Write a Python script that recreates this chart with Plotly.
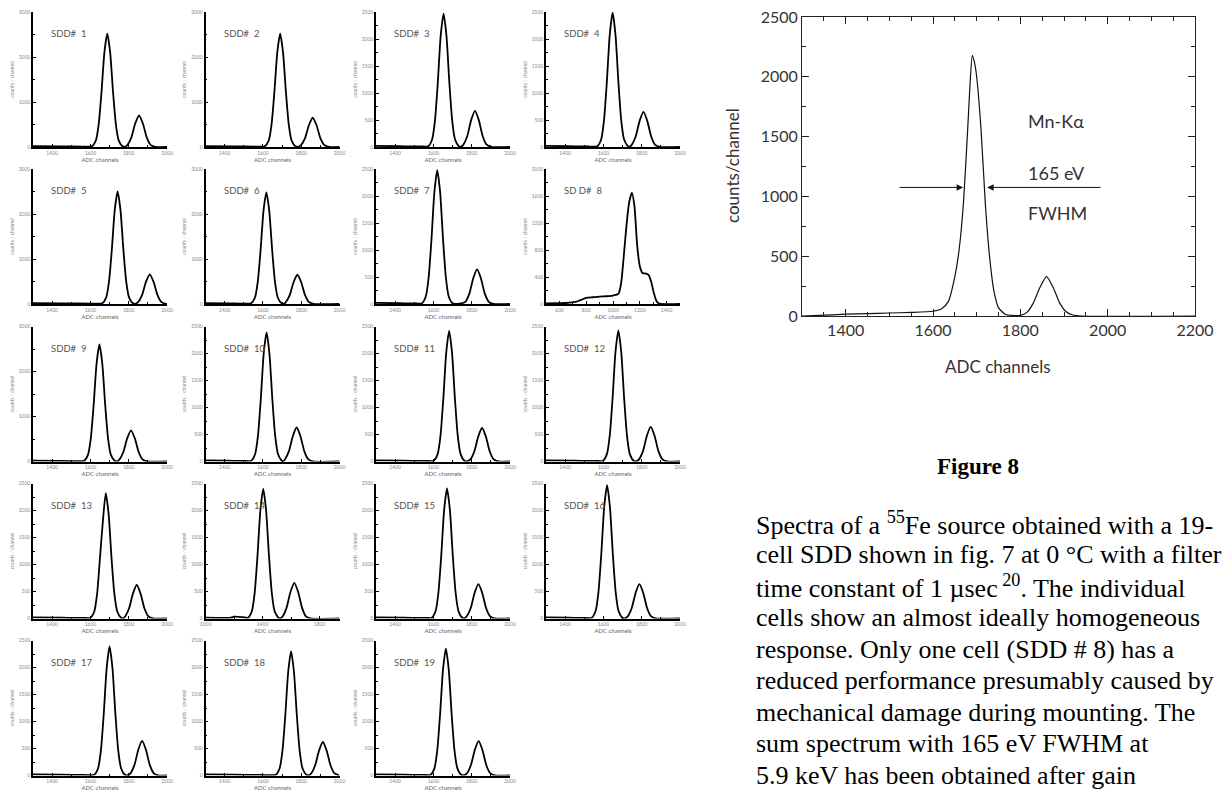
import plotly.graph_objects as go

W, H = 1232, 792

# ---------------- data ----------------
sdd_names = ["SDD#  1", "SDD#  2", "SDD#  3", "SDD#  4", "SDD#  5", "SDD#  6", "SDD#  7",
             "SD D#  8", "SDD#  9", "SDD#  10", "SDD#  11", "SDD#  12", "SDD#  13",
             "SDD#  14", "SDD#  15", "SDD#  16", "SDD#  17", "SDD#  18", "SDD#  19"]

sdd1_x = [1300, 1450, 1560, 1608, 1628, 1643, 1658, 1673, 1688, 1703, 1718, 1733, 1748, 1768, 1781, 1794, 1814, 1834, 1854, 1874, 1894, 1914, 1939, 2000]
sdd1_y = [20, 15, 10, 15, 141, 499, 1227, 2104, 2520, 2104, 1227, 499, 141, 15, 5, 49, 214, 521, 700, 521, 214, 49, 2, 0]
sdd2_x = [1300, 1450, 1560, 1610, 1630, 1645, 1660, 1675, 1690, 1705, 1720, 1735, 1750, 1770, 1785, 1800, 1820, 1840, 1860, 1880, 1900, 1920, 1945, 2000]
sdd2_y = [20, 15, 10, 15, 141, 499, 1227, 2104, 2520, 2104, 1227, 499, 141, 15, 5, 46, 199, 484, 650, 484, 199, 46, 2, 0]
sdd3_x = [1300, 1420, 1530, 1573, 1593, 1608, 1623, 1638, 1653, 1668, 1683, 1698, 1713, 1733, 1745, 1757, 1777, 1797, 1817, 1837, 1857, 1877, 1902, 2000]
sdd3_y = [20, 15, 10, 15, 138, 489, 1203, 2062, 2470, 2062, 1203, 489, 138, 15, 5, 47, 205, 498, 670, 498, 205, 47, 2, 0]
sdd4_x = [1300, 1420, 1520, 1568, 1588, 1603, 1618, 1633, 1648, 1663, 1678, 1693, 1708, 1728, 1738, 1749, 1769, 1789, 1809, 1829, 1849, 1869, 1894, 2000]
sdd4_y = [20, 15, 10, 15, 139, 493, 1213, 2079, 2490, 2079, 1213, 493, 139, 15, 5, 46, 199, 484, 650, 484, 199, 46, 2, 0]
sdd5_x = [1300, 1450, 1600, 1662, 1682, 1697, 1712, 1727, 1742, 1757, 1772, 1787, 1802, 1822, 1835, 1850, 1870, 1890, 1910, 1930, 1950, 1970, 1995, 2000]
sdd5_y = [20, 15, 10, 15, 140, 495, 1218, 2088, 2500, 2088, 1218, 495, 140, 15, 5, 46, 202, 491, 660, 491, 202, 46, 2, 0]
sdd6_x = [1300, 1420, 1500, 1538, 1558, 1573, 1588, 1603, 1618, 1633, 1648, 1663, 1678, 1698, 1710, 1720, 1740, 1760, 1780, 1800, 1820, 1840, 1865, 2000]
sdd6_y = [20, 15, 10, 15, 139, 491, 1208, 2071, 2480, 2071, 1208, 491, 139, 15, 5, 46, 199, 484, 650, 484, 199, 46, 2, 0]
sdd7_x = [1300, 1420, 1500, 1540, 1560, 1575, 1590, 1605, 1620, 1635, 1650, 1665, 1680, 1700, 1734, 1768, 1788, 1808, 1828, 1848, 1868, 1888, 1913, 2000]
sdd7_y = [20, 15, 10, 15, 139, 491, 1208, 2071, 2480, 2071, 1208, 491, 139, 15, 5, 45, 196, 476, 640, 476, 196, 45, 2, 0]
sdd8_x = [500, 650, 720, 760, 800, 850, 900, 950, 1000, 1040, 1060, 1080, 1100, 1120, 1141, 1160, 1180, 1200, 1220, 1245, 1265, 1285, 1305, 1325, 1345, 1500]
sdd8_y = [10, 15, 30, 60, 90, 100, 110, 115, 125, 150, 300, 700, 1150, 1500, 1650, 1450, 880, 560, 460, 450, 430, 330, 160, 40, 5, 0]
sdd9_x = [1300, 1420, 1520, 1567, 1587, 1602, 1617, 1632, 1647, 1662, 1677, 1692, 1707, 1727, 1740, 1752, 1772, 1792, 1812, 1832, 1852, 1872, 1897, 2000]
sdd9_y = [20, 15, 10, 16, 146, 515, 1266, 2171, 2600, 2171, 1266, 515, 146, 16, 5, 48, 211, 513, 690, 513, 211, 48, 2, 0]
sdd10_x = [1300, 1420, 1500, 1539, 1559, 1574, 1589, 1604, 1619, 1634, 1649, 1664, 1679, 1699, 1708, 1716, 1736, 1756, 1776, 1796, 1816, 1836, 1861, 2000]
sdd10_y = [20, 15, 10, 14, 134, 473, 1164, 1996, 2390, 1996, 1164, 473, 134, 14, 5, 44, 193, 469, 630, 469, 193, 44, 2, 0]
sdd11_x = [1300, 1450, 1560, 1602, 1622, 1637, 1652, 1667, 1682, 1697, 1712, 1727, 1742, 1762, 1778, 1794, 1814, 1834, 1854, 1874, 1894, 1914, 1939, 2000]
sdd11_y = [20, 15, 10, 15, 136, 479, 1179, 2021, 2420, 2021, 1179, 479, 136, 15, 5, 43, 190, 461, 620, 461, 190, 43, 2, 0]
sdd12_x = [1300, 1450, 1560, 1598, 1618, 1633, 1648, 1663, 1678, 1693, 1708, 1723, 1738, 1758, 1772, 1787, 1807, 1827, 1847, 1867, 1887, 1907, 1932, 2000]
sdd12_y = [20, 15, 10, 15, 136, 481, 1183, 2029, 2430, 2029, 1183, 481, 136, 15, 5, 45, 196, 476, 640, 476, 196, 45, 2, 0]
sdd13_x = [1300, 1450, 1560, 1600, 1620, 1635, 1650, 1665, 1680, 1695, 1710, 1725, 1740, 1760, 1771, 1782, 1802, 1822, 1842, 1862, 1882, 1902, 1927, 2000]
sdd13_y = [20, 15, 10, 14, 130, 459, 1130, 1800, 2320, 1937, 1130, 459, 130, 14, 5, 43, 190, 461, 620, 461, 190, 43, 2, 0]
sdd14_x = [1000, 1180, 1200, 1260, 1298, 1325, 1345, 1365, 1385, 1405, 1425, 1445, 1465, 1485, 1512, 1527, 1543, 1569, 1596, 1623, 1650, 1677, 1703, 1737, 1940]
sdd14_y = [15, 15, 35, 25, 14, 134, 475, 1169, 2004, 2400, 2004, 1169, 475, 134, 14, 5, 46, 202, 491, 660, 491, 202, 46, 2, 0]
sdd15_x = [1300, 1450, 1560, 1591, 1611, 1626, 1641, 1656, 1671, 1686, 1701, 1716, 1731, 1751, 1763, 1775, 1795, 1815, 1835, 1855, 1875, 1895, 1920, 2000]
sdd15_y = [20, 15, 10, 14, 135, 477, 1174, 2012, 2410, 2012, 1174, 477, 135, 14, 5, 45, 195, 473, 636, 473, 195, 45, 2, 0]
sdd16_x = [1300, 1420, 1500, 1539, 1559, 1574, 1589, 1604, 1619, 1634, 1649, 1664, 1679, 1699, 1714, 1728, 1748, 1768, 1788, 1808, 1828, 1848, 1873, 2000]
sdd16_y = [20, 15, 10, 15, 138, 489, 1203, 2062, 2470, 2062, 1203, 489, 138, 15, 5, 45, 195, 473, 636, 473, 195, 45, 2, 0]
sdd17_x = [1300, 1450, 1570, 1620, 1640, 1655, 1670, 1685, 1700, 1715, 1730, 1745, 1760, 1780, 1795, 1810, 1830, 1850, 1870, 1890, 1910, 1930, 1955, 2000]
sdd17_y = [20, 15, 10, 14, 134, 473, 1164, 1996, 2390, 1996, 1164, 473, 134, 14, 5, 45, 196, 476, 640, 476, 196, 45, 2, 0]
sdd18_x = [1300, 1450, 1600, 1667, 1687, 1702, 1717, 1732, 1747, 1762, 1777, 1792, 1807, 1827, 1840, 1853, 1873, 1893, 1913, 1933, 1953, 1973, 1998]
sdd18_y = [20, 15, 10, 14, 129, 455, 1120, 1921, 2300, 1921, 1120, 455, 129, 14, 5, 43, 190, 461, 620, 461, 190, 43, 2]
sdd19_x = [1300, 1450, 1550, 1585, 1605, 1620, 1635, 1650, 1665, 1680, 1695, 1710, 1725, 1745, 1760, 1776, 1796, 1816, 1836, 1856, 1876, 1896, 1921, 2000]
sdd19_y = [20, 15, 10, 14, 132, 465, 1144, 1962, 2350, 1962, 1144, 465, 132, 14, 5, 45, 195, 473, 636, 473, 195, 45, 2, 0]

sum_x = [1300, 1340, 1400, 1450, 1500, 1550, 1600, 1620, 1635, 1650, 1660, 1670, 1680, 1685, 1690, 1695, 1700, 1710, 1720, 1730, 1740, 1750, 1765, 1780, 1800, 1815, 1830, 1845, 1860, 1875, 1890, 1905, 1920, 1940, 2200]
sum_y = [0, 5, 15, 20, 25, 30, 40, 60, 120, 330, 560, 960, 1600, 1950, 2180, 2120, 2000, 1560, 930, 480, 200, 70, 15, 5, 5, 30, 110, 240, 330, 240, 110, 35, 8, 0, 0]

# axis ranges / ticks per small panel
x_ranges = [[1300, 2000]] * 7 + [[500, 1500]] + [[1300, 2000]] * 5 + [[1000, 1940]] + [[1300, 2000]] * 5
x_tick0 = [1400] * 7 + [600] + [1400] * 5 + [1000] + [1400] * 5
x_dtick = [200] * 7 + [200] + [200] * 5 + [400] + [200] * 5
y_max = [3000, 3000, 2500, 2500, 3000, 3000, 2500, 2000, 3000, 2500,
         2500, 2500, 2500, 2500, 2500, 2500, 2500, 2500, 2500]

caption_lines = [
    "Spectra of a <sup>55</sup>Fe source obtained with a 19-",
    "cell SDD shown in fig. 7 at 0 °C with a filter",
    "time constant of 1 µsec<sup> 20</sup>. The individual",
    "cells show an almost ideally homogeneous",
    "response. Only one cell (SDD # 8) has a",
    "reduced performance presumably caused by",
    "mechanical damage during mounting. The",
    "sum spectrum with 165 eV FWHM at",
    "5.9 keV has been obtained after gain",
]

panels_x = [sdd1_x, sdd2_x, sdd3_x, sdd4_x, sdd5_x, sdd6_x, sdd7_x, sdd8_x, sdd9_x, sdd10_x,
            sdd11_x, sdd12_x, sdd13_x, sdd14_x, sdd15_x, sdd16_x, sdd17_x, sdd18_x, sdd19_x]
panels_y = [sdd1_y, sdd2_y, sdd3_y, sdd4_y, sdd5_y, sdd6_y, sdd7_y, sdd8_y, sdd9_y, sdd10_y,
            sdd11_y, sdd12_y, sdd13_y, sdd14_y, sdd15_y, sdd16_y, sdd17_y, sdd18_y, sdd19_y]

# ---------------- layout geometry (page pixels) ----------------
OFF = 8  # the page body margin offsets the figure by 8 px


def px(x):
    return (x - OFF) / W


def py(y):
    return 1 - (y - OFF) / H


col_left = [33, 205.5, 376, 546]
row_top = [12, 169, 326.5, 483.5, 640.5]
pw, ph = 134, 135

FONT = "Lato, 'Noto Sans', sans-serif"
SMALL_GRAY = "#8a8a8a"

fig = go.Figure()
layout = dict(width=W, height=H, margin=dict(l=0, r=0, t=0, b=0, autoexpand=False),
              paper_bgcolor="white", plot_bgcolor="white", showlegend=False,
              font=dict(family=FONT, color="#333"))
annotations = []

for i in range(19):
    n = i + 1
    sid = "" if n == 1 else str(n)
    r, c = divmod(i, 4)
    x0, y0 = col_left[c], row_top[r]
    fig.add_trace(go.Scatter(
        x=panels_x[i], y=panels_y[i], mode="lines",
        line=dict(color="black", width=1.8, shape="spline", smoothing=0.6),
        xaxis="x" + sid, yaxis="y" + sid, hoverinfo="skip"))
    ym = y_max[i]
    ydt = 1000 if ym == 3000 else (500 if ym == 2500 else 400)
    layout["xaxis" + sid] = dict(
        domain=[px(x0), px(x0 + pw)], anchor="y" + sid, automargin=False,
        ticklabeloverflow="allow",
        range=x_ranges[i], tickmode="linear", tick0=x_tick0[i], dtick=x_dtick[i],
        ticks="inside", ticklen=3, tickwidth=1, tickcolor="black",
        minor=dict(dtick=x_dtick[i] / 2, ticks="inside", ticklen=2, tickcolor="black"),
        showline=True, linecolor="black", linewidth=1.5, showgrid=False, zeroline=False,
        tickfont=dict(size=5, color=SMALL_GRAY),
        title=dict(text="ADC channels", font=dict(size=6, color="#666"), standoff=3),
        fixedrange=True)
    layout["yaxis" + sid] = dict(
        domain=[py(y0 + ph), py(y0)], anchor="x" + sid, automargin=False,
        ticklabeloverflow="allow",
        range=[0, ym], tickmode="linear", tick0=0, dtick=ydt,
        ticks="inside", ticklen=3, tickwidth=1, tickcolor="black",
        minor=dict(dtick=ydt / 2, ticks="inside", ticklen=2, tickcolor="black"),
        showline=True, linecolor="black", linewidth=1.5, showgrid=False, zeroline=False,
        tickfont=dict(size=5, color=SMALL_GRAY),
        title=dict(text="counts / channel", font=dict(size=5, color=SMALL_GRAY), standoff=4),
        fixedrange=True)
    annotations.append(dict(
        xref=f"x{sid} domain", yref=f"y{sid} domain", x=0.12, y=0.84,
        xanchor="left", yanchor="middle", showarrow=False, text=sdd_names[i],
        font=dict(size=9.5, color="#555", family=FONT)))

# ---------------- large sum spectrum ----------------
sid = "20"
fig.add_trace(go.Scatter(
    x=sum_x, y=sum_y, mode="lines",
    line=dict(color="#111", width=1.2, shape="spline", smoothing=0.6),
    xaxis="x" + sid, yaxis="y" + sid, hoverinfo="skip"))
bx0, bx1, by0, by1 = 802, 1195, 17, 316
layout["xaxis" + sid] = dict(
    domain=[px(bx0), px(bx1)], anchor="y" + sid, range=[1300, 2200], automargin=False,
    ticklabeloverflow="allow",
    tickmode="linear", tick0=1400, dtick=200,
    ticks="inside", ticklen=7, tickwidth=1, tickcolor="#222",
    minor=dict(dtick=50, ticks="inside", ticklen=4, tickcolor="#222"),
    showline=True, mirror="ticks", linecolor="#222", linewidth=1,
    showgrid=False, zeroline=False, tickfont=dict(size=16, color="#333"), fixedrange=True)
layout["yaxis" + sid] = dict(
    domain=[py(by1), py(by0)], anchor="x" + sid, range=[0, 2500], automargin=False,
    ticklabeloverflow="allow",
    tickmode="linear", tick0=0, dtick=500,
    ticks="inside", ticklen=7, tickwidth=1, tickcolor="#222",
    minor=dict(dtick=250, ticks="inside", ticklen=4, tickcolor="#222"),
    showline=True, mirror="ticks", linecolor="#222", linewidth=1,
    showgrid=False, zeroline=False, tickfont=dict(size=16, color="#333"), fixedrange=True)

annotations += [
    dict(xref="paper", yref="paper", x=px(732), y=py(166), text="counts/channel",
         xanchor="center", yanchor="middle",
         textangle=-90, showarrow=False, font=dict(size=17, color="#333")),
    dict(xref="paper", yref="paper", x=px(998), y=py(366), text="ADC channels",
         xanchor="center", yanchor="middle",
         showarrow=False, font=dict(size=17, color="#333")),
    dict(xref="x20", yref="y20", x=1813, y=1633, text="Mn-Kα", xanchor="left",
         showarrow=False, font=dict(size=18, color="#333")),
    dict(xref="x20", yref="y20", x=1813, y=1192, text="165 eV", xanchor="left",
         showarrow=False, font=dict(size=18, color="#333")),
    dict(xref="x20", yref="y20", x=1813, y=858, text="FWHM", xanchor="left",
         showarrow=False, font=dict(size=18, color="#333")),
    dict(xref="x20", yref="y20", x=1669, y=1075, ax=1520, ay=1075, axref="x20", ayref="y20",
         text="", showarrow=True, arrowhead=2, arrowsize=1.3, arrowwidth=1, arrowcolor="#111"),
    dict(xref="x20", yref="y20", x=1724, y=1075, ax=1987, ay=1075, axref="x20", ayref="y20",
         text="", showarrow=True, arrowhead=2, arrowsize=1.3, arrowwidth=1, arrowcolor="#111"),
]

# ---------------- figure caption ----------------
SERIF = "'Liberation Serif', 'Times New Roman', serif"
annotations.append(dict(xref="paper", yref="paper", x=px(978), y=py(466),
                        xanchor="center", yanchor="middle",
                        text="<b>Figure 8</b>", showarrow=False,
                        font=dict(size=23, family=SERIF, color="black")))
for k, line in enumerate(caption_lines):
    annotations.append(dict(xref="paper", yref="paper", x=px(754), y=py(523 + 31.5 * k),
                            xanchor="left", yanchor="middle", text=line, showarrow=False,
                            font=dict(size=26, family=SERIF, color="black")))

layout["annotations"] = annotations
fig.update_layout(**layout)
fig.write_html("out.html")
